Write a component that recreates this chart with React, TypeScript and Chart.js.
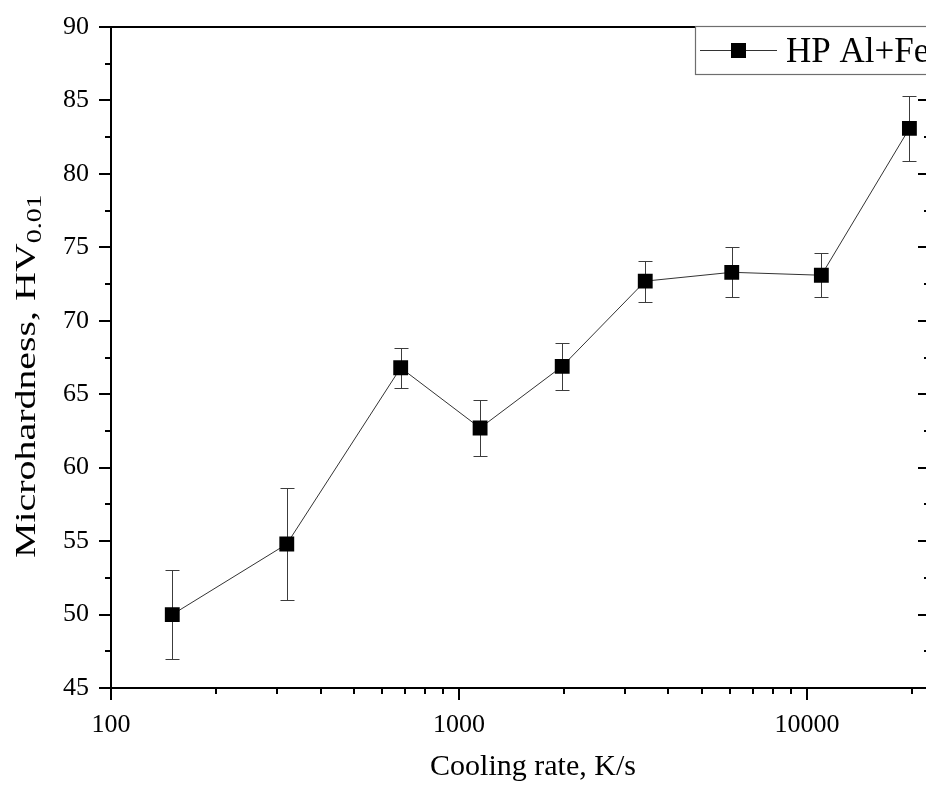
import { useEffect, useRef } from 'react';
import { Chart, registerables } from 'chart.js';

Chart.register(...registerables);

// ---- data ----
const coolingRates = [150, 320, 680, 1150, 1980, 3430, 6080, 11000, 19700];
const microhardness = [50.0, 54.8, 66.8, 62.7, 66.9, 72.7, 73.3, 73.1, 83.1];
const errors = [3.0, 3.8, 1.35, 1.9, 1.6, 1.4, 1.7, 1.5, 2.2];
const xLabelTicks = [100, 1000, 10000];
const yMin = 45;
const yMax = 90;
const yMajorStep = 5;
const yMinorStep = 2.5;
const xMin = 100;
const xMax = 22500;
const seriesLabel = 'HP Al+Fe';
const xTitle = 'Cooling rate, K/s';
const yTitleMain = 'Microhardness, HV';
const yTitleSub = '0.01';

const FONT = '"Liberation Serif", "Times New Roman", serif';
const TARGET = { left: 111, top: 27, right: 932, bottom: 688 };

const zeroPadding = (s: any) => {
  s.paddingTop = 0;
  s.paddingBottom = 0;
  s.paddingLeft = 0;
  s.paddingRight = 0;
};

const framePlugin = {
  id: 'framePlugin',
  beforeDatasetsDraw(chart: any) {
    const { ctx, scales } = chart;
    const x = scales.x;
    const y = scales.y;
    ctx.save();
    ctx.strokeStyle = '#3c3c3c';
    ctx.lineWidth = 1;
    coolingRates.forEach((r, i) => {
      const px = Math.round(x.getPixelForValue(r)) + 0.5;
      const top = Math.round(y.getPixelForValue(microhardness[i] + errors[i])) + 0.5;
      const bot = Math.round(y.getPixelForValue(microhardness[i] - errors[i])) + 0.5;
      ctx.beginPath();
      ctx.moveTo(px, top);
      ctx.lineTo(px, bot);
      ctx.moveTo(px - 7, top);
      ctx.lineTo(px + 7, top);
      ctx.moveTo(px - 7, bot);
      ctx.lineTo(px + 7, bot);
      ctx.stroke();
    });
    ctx.restore();
  },
  afterDraw(chart: any) {
    const { ctx, chartArea: a, scales } = chart;
    const x = scales.x;
    const y = scales.y;
    ctx.save();
    ctx.strokeStyle = '#000';
    ctx.lineWidth = 2;
    ctx.lineCap = 'butt';
    const L = Math.round(a.left);
    const R = Math.round(a.right);
    const T = Math.round(a.top);
    const B = Math.round(a.bottom);
    // frame
    ctx.strokeRect(L, T, R - L, B - T);

    // y ticks (left outward, right inward)
    ctx.beginPath();
    for (let v = yMin; v <= yMax + 1e-9; v += yMinorStep) {
      const major = Math.abs(v / yMajorStep - Math.round(v / yMajorStep)) < 1e-6;
      const len = major ? 12 : 6;
      const py = Math.round(y.getPixelForValue(v));
      ctx.moveTo(L - len, py);
      ctx.lineTo(L, py);
      ctx.moveTo(R, py);
      ctx.lineTo(R - len, py);
    }
    // x ticks (bottom outward)
    x.ticks.forEach((t: any) => {
      const v = t.value;
      if (v < xMin || v > xMax) return;
      const e = Math.pow(10, Math.floor(Math.log10(v) + 1e-9));
      const m = v / e;
      if (Math.abs(m - Math.round(m)) > 1e-6) return;
      const major = Math.round(m) === 1;
      const len = major ? 12 : 6;
      const px = Math.round(x.getPixelForValue(v));
      ctx.moveTo(px, B);
      ctx.lineTo(px, B + len);
    });
    ctx.stroke();

    // legend
    const lx = 695;
    const ly = 26;
    ctx.fillStyle = '#fff';
    ctx.fillRect(lx, ly, 300, 48);
    ctx.strokeStyle = '#6e6e6e';
    ctx.lineWidth = 1.2;
    ctx.strokeRect(lx + 0.5, ly + 0.5, 300, 48);
    ctx.strokeStyle = '#333';
    ctx.lineWidth = 1;
    ctx.beginPath();
    ctx.moveTo(700, 50.5);
    ctx.lineTo(777, 50.5);
    ctx.stroke();
    ctx.fillStyle = '#000';
    ctx.fillRect(731, 43, 15, 15);
    ctx.font = `35px ${FONT}`;
    ctx.textAlign = 'left';
    ctx.textBaseline = 'alphabetic';
    ctx.fillText(seriesLabel, 786, 62);

    // x title
    ctx.font = `30px ${FONT}`;
    ctx.textAlign = 'center';
    ctx.fillText(xTitle, 533, 775);

    // y title (rotated, stretched along its length, with subscript)
    ctx.save();
    ctx.translate(35, 558);
    ctx.rotate(-Math.PI / 2);
    ctx.scale(1.33, 1);
    ctx.textAlign = 'left';
    ctx.font = `30px ${FONT}`;
    ctx.fillText(yTitleMain, 0, 0);
    const w = ctx.measureText(yTitleMain).width;
    ctx.font = `21px ${FONT}`;
    ctx.fillText(yTitleSub, w, 6);
    ctx.restore();

    ctx.restore();
  },
};

export default function App() {
  const ref = useRef<HTMLCanvasElement | null>(null);
  useEffect(() => {
    if (!ref.current) return;
    const chart: any = new Chart(ref.current, {
      type: 'line',
      data: {
        datasets: [
          {
            label: seriesLabel,
            data: coolingRates.map((r, i) => ({ x: r, y: microhardness[i] })),
            borderColor: '#333',
            borderWidth: 1,
            pointStyle: 'rect',
            pointRadius: 10.5,
            pointHoverRadius: 10.5,
            pointBackgroundColor: '#000',
            pointBorderColor: '#000',
            pointBorderWidth: 0,
            tension: 0,
            fill: false,
          },
        ],
      },
      options: {
        animation: false,
        responsive: false,
        maintainAspectRatio: false,
        layout: { padding: { left: 0, top: 27, right: 8, bottom: 0 } },
        plugins: { legend: { display: false }, tooltip: { enabled: false } },
        events: [],
        scales: {
          x: {
            type: 'logarithmic',
            min: xMin,
            max: xMax,
            grid: { display: false, drawTicks: false },
            border: { display: false },
            ticks: {
              autoSkip: false,
              maxRotation: 0,
              minRotation: 0,
              padding: 22,
              color: '#000',
              font: { family: FONT, size: 26 },
              callback: (v: any) => (xLabelTicks.includes(Number(v)) ? String(v) : ''),
            },
            afterFit: (s: any) => {
              s.height = 107;
              zeroPadding(s);
            },
          },
          y: {
            min: yMin,
            max: yMax,
            grid: { display: false, drawTicks: false },
            border: { display: false },
            ticks: {
              stepSize: yMajorStep,
              padding: 22,
              color: '#000',
              font: { family: FONT, size: 26 },
            },
            afterFit: (s: any) => {
              s.width = 111;
              zeroPadding(s);
            },
          },
        },
      },
      plugins: [framePlugin],
    } as any);
    // correct the layout so the plot area lands where the reference has it
    for (let k = 0; k < 3; k++) {
      const a = chart.chartArea;
      const p = chart.options.layout.padding;
      const dTop = a.top - TARGET.top;
      const dRight = a.right - TARGET.right;
      const dBottom = a.bottom - TARGET.bottom;
      if (Math.abs(dTop) < 0.5 && Math.abs(dRight) < 0.5 && Math.abs(dBottom) < 0.5) break;
      chart.options.layout.padding = {
        left: p.left,
        top: Math.max(0, p.top - dTop),
        right: Math.max(0, p.right + dRight),
        bottom: Math.max(0, p.bottom + dBottom),
      };
      chart.update('none');
    }
    return () => chart.destroy();
  }, []);
  return (
    <div
      style={{
        position: 'absolute',
        left: 0,
        top: 0,
        width: 926,
        height: 795,
        overflow: 'hidden',
        background: '#fff',
      }}
    >
      <canvas ref={ref} width={940} height={795} style={{ display: 'block', width: 940, height: 795 }} />
    </div>
  );
}
